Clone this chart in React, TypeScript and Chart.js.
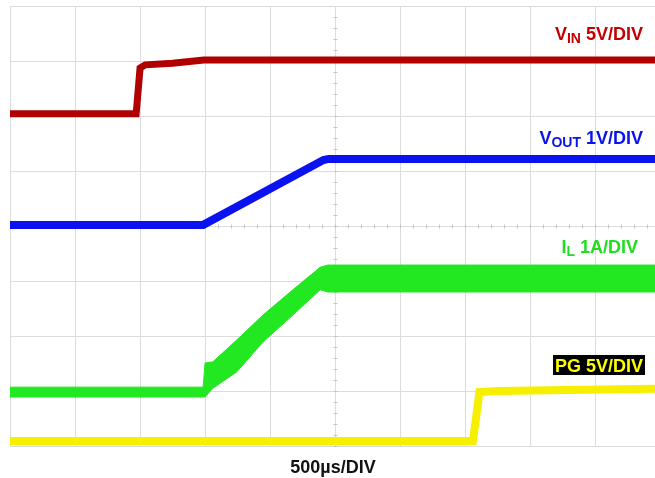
import React, { useEffect, useRef } from "react";
import { Chart, registerables } from "chart.js";

Chart.register(...registerables);

// Time axis in divisions (500µs/DIV), vertical axis in screen divisions (0 = bottom, 8 = top)
const vinX = [0, 1.94, 1.97, 2.0, 2.08, 2.5, 2.98, 5, 9.92];
const vinY = [6.04, 6.04, 6.45, 6.87, 6.93, 6.96, 7.02, 7.02, 7.02];

const voutX = [0, 2.97, 3.05, 4.82, 4.9, 9.92];
const voutY = [4.02, 4.02, 4.07, 5.2, 5.22, 5.22];

const ilX = [0, 2.97, 3.0, 3.12, 3.49, 3.89, 4.35, 4.77, 4.89, 9.92];
const ilUpper = [1.07, 1.07, 1.51, 1.53, 1.93, 2.38, 2.84, 3.25, 3.29, 3.29];
const ilLower = [0.89, 0.89, 0.89, 1.05, 1.35, 1.89, 2.38, 2.84, 2.8, 2.8];

const pgX = [0, 7.12, 7.22, 7.5, 9.92];
const pgY = [0.09, 0.09, 0.98, 1.0, 1.04];

const xDivs = 9.92;
const yDivs = 8;

const pts = (xs: number[], ys: number[]) => xs.map((x, i) => ({ x, y: ys[i] }));

const centerTicks = {
  id: "centerTicks",
  beforeDatasetsDraw(chart: any) {
    const { ctx, scales } = chart;
    const xs = scales.x;
    const ys = scales.y;
    const cx = Math.round(xs.getPixelForValue(5)) + 0.5;
    const cy = Math.round(ys.getPixelForValue(4)) + 0.5;
    ctx.save();
    ctx.strokeStyle = "#c4c4c4";
    ctx.lineWidth = 1;
    ctx.beginPath();
    for (let v = 0; v <= xDivs; v += 0.2) {
      const px = Math.round(xs.getPixelForValue(v)) + 0.5;
      ctx.moveTo(px, cy - 2);
      ctx.lineTo(px, cy + 2);
    }
    for (let v = 0; v <= yDivs; v += 0.2) {
      const py = Math.round(ys.getPixelForValue(v)) + 0.5;
      ctx.moveTo(cx - 2, py);
      ctx.lineTo(cx + 2, py);
    }
    ctx.stroke();
    ctx.restore();
  },
};

export default function App() {
  const ref = useRef<HTMLCanvasElement | null>(null);

  useEffect(() => {
    if (!ref.current) return;
    const chart = new Chart(ref.current, {
      type: "line",
      data: {
        datasets: [
          {
            label: "PG",
            data: pts(pgX, pgY),
            borderColor: "#f6f000",
            borderWidth: 8,
            pointRadius: 0,
            fill: false,
            order: 1,
          },
          {
            label: "IL upper",
            data: pts(ilX, ilUpper),
            borderColor: "#22e822",
            backgroundColor: "#22e822",
            borderWidth: 1,
            pointRadius: 0,
            fill: "+1",
            order: 2,
          },
          {
            label: "IL lower",
            data: pts(ilX, ilLower),
            borderColor: "#22e822",
            borderWidth: 1,
            pointRadius: 0,
            fill: false,
            order: 2,
          },
          {
            label: "VOUT",
            data: pts(voutX, voutY),
            borderColor: "#0a12f0",
            borderWidth: 8,
            pointRadius: 0,
            fill: false,
            order: 3,
          },
          {
            label: "VIN",
            data: pts(vinX, vinY),
            borderColor: "#b00000",
            borderWidth: 7,
            pointRadius: 0,
            fill: false,
            order: 4,
          },
        ],
      },
      options: {
        animation: false,
        responsive: false,
        events: [],
        layout: { padding: { left: 10, top: 6, right: 0, bottom: 32 } },
        plugins: { legend: { display: false }, tooltip: { enabled: false } },
        scales: {
          x: {
            type: "linear",
            min: 0,
            max: xDivs,
            afterBuildTicks: (s: any) => {
              s.ticks = [0, 1, 2, 3, 4, 5, 6, 7, 8, 9].map((v) => ({ value: v }));
            },
            ticks: { display: false },
            grid: { color: "#dcdcdc", drawTicks: false, lineWidth: 1 },
            border: { display: false },
          },
          y: {
            type: "linear",
            min: 0,
            max: yDivs,
            afterBuildTicks: (s: any) => {
              s.ticks = [0, 1, 2, 3, 4, 5, 6, 7, 8].map((v) => ({ value: v }));
            },
            ticks: { display: false },
            grid: { color: "#dcdcdc", drawTicks: false, lineWidth: 1 },
            border: { display: false },
          },
        },
      },
      plugins: [centerTicks],
    });
    return () => chart.destroy();
  }, []);

  const font = '"Liberation Sans", Arial, sans-serif';
  const label = (color: string, top: number, right: number): React.CSSProperties => ({
    position: "absolute",
    top,
    right,
    color,
    fontFamily: font,
    fontWeight: "bold",
    fontSize: 18,
    lineHeight: "18px",
    whiteSpace: "nowrap",
  });
  const sub: React.CSSProperties = { fontSize: 14, position: "relative", top: 3 };

  return (
    <div style={{ position: "fixed", left: 0, top: 0, width: 655, height: 478, background: "#fff", overflow: "hidden" }}>
      <canvas ref={ref} width={655} height={478} style={{ position: "absolute", left: 0, top: 0 }} />
      <div style={label("#c40000", 25, 12)}>
        V<span style={sub}>IN</span> 5V/DIV
      </div>
      <div style={label("#0a12ee", 129, 12)}>
        V<span style={sub}>OUT</span> 1V/DIV
      </div>
      <div style={label("#22dd22", 238, 17)}>
        I<span style={sub}>L</span> 1A/DIV
      </div>
      <div
        style={{
          ...label("#ffff00", 355, 10),
          background: "#000",
          padding: "2px 2px 0 2px",
        }}
      >
        PG 5V/DIV
      </div>
      <div
        style={{
          position: "absolute",
          top: 458,
          left: 0,
          width: 666,
          textAlign: "center",
          fontFamily: font,
          fontWeight: "bold",
          fontSize: 18,
          lineHeight: "18px",
          color: "#111",
        }}
      >
        500µs/DIV
      </div>
    </div>
  );
}
